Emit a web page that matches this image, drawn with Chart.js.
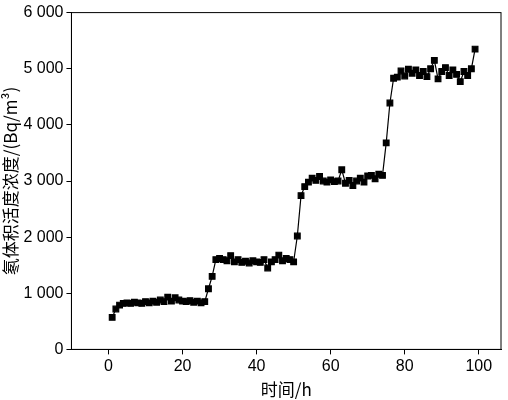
<!DOCTYPE html>
<html><head><meta charset="utf-8">
<script src="https://cdn.jsdelivr.net/npm/chart.js@4"></script>
<style>html,body{margin:0;background:#fff}</style>
</head><body><canvas id="c" width="508" height="400"></canvas>
<script>
const hours = [];
for (let h = 1; h <= 99; h++) hours.push(h);
const radon = [
  570, 720, 790, 820, 830, 820, 840, 830, 820, 850,
  830, 860, 840, 880, 850, 930, 860, 920, 880, 860,
  850, 870, 840, 860, 830, 850, 1080, 1300, 1600, 1620,
  1600, 1580, 1670, 1560, 1600, 1550, 1570, 1540, 1580, 1560,
  1550, 1600, 1450, 1560, 1600, 1680, 1580, 1620, 1600, 1560,
  2020, 2740, 2900, 2980, 3050, 3010, 3080, 3000, 2980, 3020,
  2990, 3000, 3200, 2960, 3010, 2920, 3000, 3050, 2980, 3090,
  3100, 3040, 3120, 3100, 3680, 4390, 4830, 4850, 4960, 4870,
  4990, 4920, 4980, 4880, 4950, 4860, 5000, 5150, 4820, 4950,
  5020, 4880, 4980, 4900, 4770, 4950, 4880, 5000, 5350
];
const yTicks = [0, 1000, 2000, 3000, 4000, 5000, 6000];
const fmt = v => v === 0 ? '0' : Math.floor(v / 1000) + ' ' + String(v % 1000).padStart(3, '0');

new Chart(document.getElementById('c'), {
  type: 'line',
  data: {
    labels: hours,
    datasets: [{
      data: hours.map((h, i) => ({ x: h, y: radon[i] })),
      borderColor: '#000',
      borderWidth: 1.2,
      backgroundColor: '#000',
      pointStyle: 'rect',
      pointRadius: 4,
      pointHoverRadius: 4
    }]
  },
  options: {
    responsive: false,
    animation: false,
    devicePixelRatio: 1,
    layout: { padding: { top: 8, right: 7, left: 0, bottom: 0 } },
    plugins: { legend: { display: false }, tooltip: { enabled: false } },
    scales: {
      x: {
        type: 'linear', min: -10, max: 106,
        afterBuildTicks: a => { a.ticks = [0, 20, 40, 60, 80, 100].map(v => ({ value: v })); },
        grid: { drawOnChartArea: false, color: '#000', tickLength: 5 },
        border: { color: '#000', width: 1 },
        ticks: { color: '#000', font: { family: 'Liberation Sans', size: 16 } },
        title: { display: true, text: '时间/h', color: '#000', padding: 0, font: { family: 'Noto Sans CJK SC', size: 17 } }
      },
      y: {
        min: 0, max: 6000,
        afterBuildTicks: a => { a.ticks = yTicks.map(v => ({ value: v })); },
        grid: { drawOnChartArea: false, color: '#000', tickLength: 5 },
        border: { color: '#000', width: 1 },
        ticks: { color: '#000', callback: v => fmt(v), font: { family: 'Liberation Sans', size: 16 } },
        title: { display: true, text: '氡体积活度浓度/(Bq/m³)', color: '#000', padding: 0, font: { family: 'Noto Sans CJK SC', size: 17 } }
      }
    }
  },
  plugins: [{
    id: 'frame',
    afterDraw(c) {
      const a = c.chartArea, x = c.ctx;
      x.save(); x.strokeStyle = '#000'; x.lineWidth = 1;
      x.strokeRect(a.left, a.top, a.right - a.left, a.bottom - a.top);
      x.restore();
    }
  }]
});
</script>
</body></html>
